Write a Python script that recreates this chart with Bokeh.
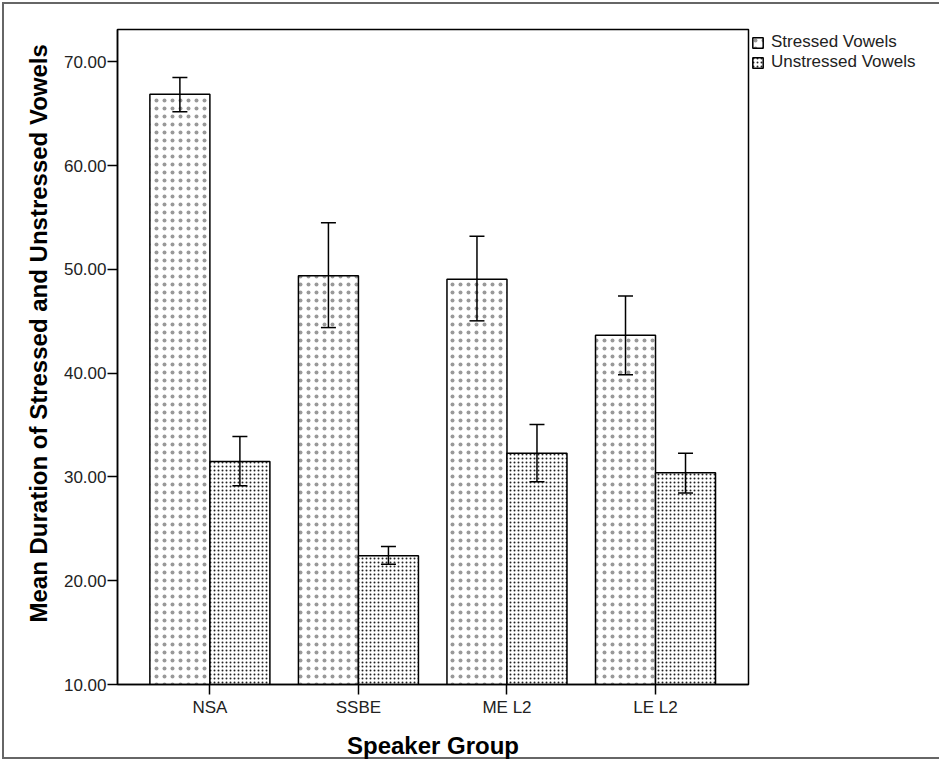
from bokeh.plotting import figure
from bokeh.models import (ColumnDataSource, Whisker, Legend, LegendItem, FixedTicker,
                          Range1d, Title)
from bokeh.embed import file_html
from bokeh.resources import INLINE

groups = ["NSA", "SSBE", "ME L2", "LE L2"]
stressed = [66.9, 49.4, 49.05, 43.65]
stressed_lo = [65.2, 44.4, 45.05, 39.85]
stressed_hi = [68.5, 54.5, 53.2, 47.45]
unstressed = [31.5, 22.4, 32.3, 30.4]
unstressed_lo = [29.15, 21.6, 29.55, 28.45]
unstressed_hi = [33.9, 23.3, 35.05, 32.3]
y_ticks = [10, 20, 30, 40, 50, 60, 70]

BW = 0.404
xs = list(range(len(groups)))
src_s = ColumnDataSource(dict(x=[i - BW / 2 for i in xs], top=stressed, lo=stressed_lo, hi=stressed_hi))
src_u = ColumnDataSource(dict(x=[i + BW / 2 for i in xs], top=unstressed, lo=unstressed_lo, hi=unstressed_hi))

FONT = "Liberation Sans"

p = figure(frame_width=631, frame_height=655, output_backend="svg", toolbar_location=None,
           x_range=Range1d(-0.622, 3.626), y_range=Range1d(10, 73.13),
           min_border_left=117, min_border_right=172, min_border_top=29, min_border_bottom=76)
p.styles = {"box-shadow": "inset 0 0 0 2px white, inset 0 0 0 4px #666666", "background": "white"}
p.background_fill_color = "white"
p.border_fill_color = None
p.outline_line_color = "black"
p.outline_line_width = 1.5
p.xgrid.visible = False
p.ygrid.visible = False

rs = p.vbar(x="x", top="top", bottom=10, width=BW, source=src_s, fill_color="white",
            line_color="black", line_width=1.5, hatch_pattern="dot", hatch_scale=8,
            hatch_color="#999999")
ru = p.vbar(x="x", top="top", bottom=10, width=BW, source=src_u, fill_color="white",
            line_color="black", line_width=1.5, hatch_pattern="dot", hatch_scale=4,
            hatch_color="#222222")

for src in (src_s, src_u):
    w = Whisker(base="x", lower="lo", upper="hi", source=src, line_color="black",
                line_width=1.5, level="overlay")
    for h in (w.upper_head, w.lower_head):
        h.size = 15
        h.line_width = 1.5
        h.line_color = "black"
    p.add_layout(w)

p.xaxis.ticker = FixedTicker(ticks=xs)
p.xaxis.major_label_overrides = {i: g for i, g in enumerate(groups)}
p.yaxis.ticker = FixedTicker(ticks=y_ticks)
p.yaxis.major_label_overrides = {v: f"{v:.2f}" for v in y_ticks}

for ax in (p.xaxis[0], p.yaxis[0]):
    ax.axis_line_color = "black"
    ax.axis_line_width = 1.5
    ax.major_tick_line_color = "black"
    ax.major_tick_line_width = 1.5
    ax.major_tick_in = 0
    ax.major_tick_out = 10
    ax.minor_tick_line_color = None
    ax.major_label_text_font = FONT
    ax.major_label_text_font_size = "17px"
    ax.major_label_text_color = "#222222"

p.xaxis.axis_label = "Speaker Group"
p.xaxis.axis_label_text_font = FONT
p.xaxis.axis_label_text_font_style = "bold"
p.xaxis.axis_label_text_color = "black"
p.xaxis.axis_label_text_font_size = "24px"
p.xaxis.major_label_standoff = 3
p.xaxis.axis_label_standoff = 12
p.yaxis.major_label_standoff = 1

ytitle = Title(text="Mean Duration of Stressed and Unstressed Vowels", align="left",
               offset=62, standoff=17, text_font=FONT, text_font_style="bold",
               text_font_size="24px", text_color="black")
p.add_layout(ytitle, "left")

legend = Legend(items=[LegendItem(label="Stressed Vowels", renderers=[rs]),
                       LegendItem(label="Unstressed Vowels", renderers=[ru])],
                location="top_left", orientation="vertical")
legend.margin = 3
legend.padding = 0
legend.spacing = -3
legend.glyph_width = 13
legend.glyph_height = 13
legend.label_height = 17
legend.label_standoff = 7
legend.label_text_font = FONT
legend.label_text_font_size = "17px"
legend.label_text_line_height = 1.0
legend.label_text_color = "#222222"
legend.border_line_color = None
legend.background_fill_alpha = 0
p.add_layout(legend, "right")

open("out.html", "w").write(file_html(p, INLINE))
